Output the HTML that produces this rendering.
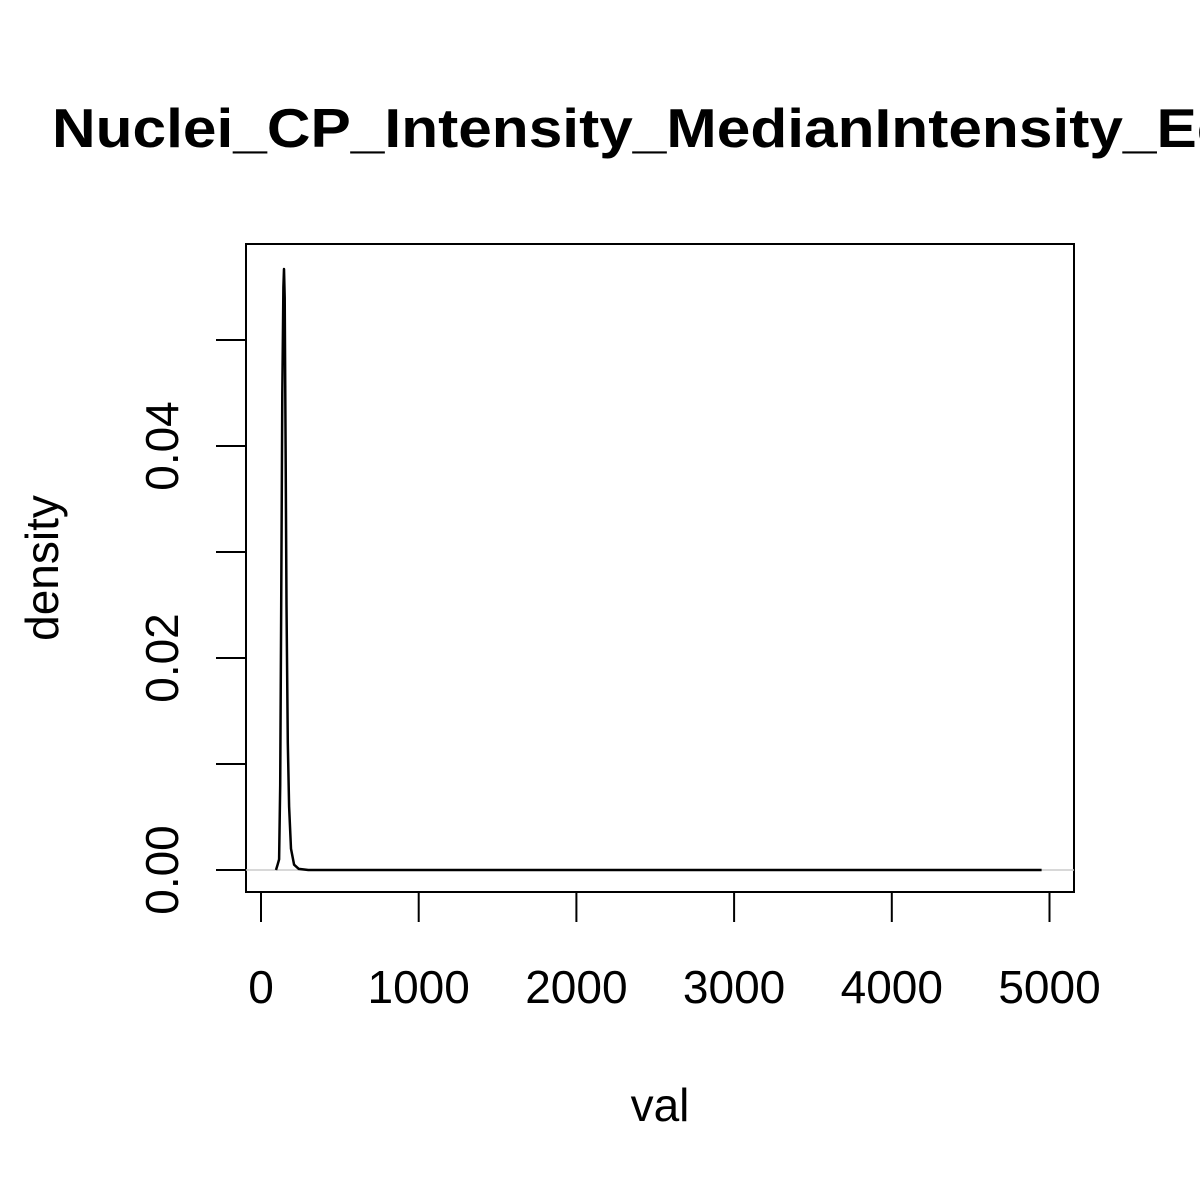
<!DOCTYPE html>
<html><head><meta charset="utf-8"><style>body{margin:0;background:#fff;overflow:hidden}svg{display:block}text{font-family:"Liberation Sans",Arial,sans-serif}</style></head>
<body>
<svg width="1200" height="1200" xmlns="http://www.w3.org/2000/svg">
<text x="52" y="147" font-size="55" font-weight="bold" textLength="1212" lengthAdjust="spacingAndGlyphs">Nuclei_CP_Intensity_MedianIntensity_Ecc</text>
<rect x="246" y="244" width="828" height="648" fill="none" stroke="#000" stroke-width="2"/>
<g id="xaxis"></g>
<g id="yaxis"></g>
<line id="zero" stroke="#ccc" stroke-width="1.5"/>
<path id="curve" fill="none" stroke="#000" stroke-width="2.5" stroke-linejoin="round"/>
<text x="660" y="1121" font-size="46" text-anchor="middle">val</text>
<text transform="translate(58,568) rotate(-90)" font-size="46" text-anchor="middle">density</text>
</svg>
<script>
const xTicks=[0,1000,2000,3000,4000,5000];
const yTicks=[0,0.01,0.02,0.03,0.04,0.05];
const yLabels=["0.00","","0.02","","0.04",""];
const xs=[95,105,115,122,128,135,142,146,150,156,162,170,178,190,210,240,300,1000,4950];
const ds=[0,0.0005,0.001,0.008,0.025,0.045,0.055,0.0567,0.054,0.04,0.025,0.012,0.006,0.002,0.0005,0.0001,0,0,0];
const X=v=>261+v*0.1577, Y=v=>870-v*10600;
const NS="http://www.w3.org/2000/svg";
function mk(t,a,p){const e=document.createElementNS(NS,t);for(const k in a)e.setAttribute(k,a[k]);p.appendChild(e);return e;}
const xa=document.getElementById('xaxis');
mk('line',{x1:X(0),x2:X(5000),y1:892,y2:892,stroke:'#000','stroke-width':2},xa);
xTicks.forEach(v=>{
 const l=mk('line',{x1:X(v),x2:X(v),y1:892,y2:922,stroke:'#000','stroke-width':2},xa);
 
 
 const t=mk('text',{x:X(v),y:1003,'font-size':46,'text-anchor':'middle'},xa);t.textContent=v;
 
 
});
const ya=document.getElementById('yaxis');
mk('line',{x1:246,x2:246,y1:Y(0),y2:Y(0.05),stroke:'#000','stroke-width':2},ya);
yTicks.forEach((v,i)=>{
 const l=mk('line',{x1:216,x2:246,y1:Y(v),y2:Y(v),stroke:'#000','stroke-width':2},ya);
 
 
 if(yLabels[i]){const t=mk('text',{transform:`translate(178,${Y(v)}) rotate(-90)`,'font-size':46,'text-anchor':'middle'},ya);t.textContent=yLabels[i];
 
 }
});
const z=document.getElementById('zero');z.setAttribute('x1',246);z.setAttribute('x2',1074);z.setAttribute('y1',Y(0));z.setAttribute('y2',Y(0));
document.getElementById('curve').setAttribute('d',xs.map((x,i)=>(i?'L':'M')+X(x).toFixed(1)+','+Y(ds[i]).toFixed(1)).join(''));
</script>
</body></html>
